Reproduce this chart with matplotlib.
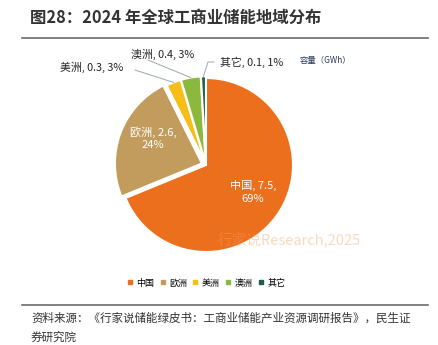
import matplotlib
matplotlib.use("Agg")
import matplotlib.pyplot as plt
import numpy as np

plt.rcParams['font.family'] = ['Noto Sans CJK SC', 'DejaVu Sans']

categories = ['中国', '欧洲', '美洲', '澳洲', '其它']
values = [7.5, 2.6, 0.3, 0.4, 0.1]
pct_labels = ['69%', '24%', '3%', '3%', '1%']
colors = ['#EC6F1E', '#C19C5C', '#F6BE17', '#8DB83E', '#1C5B4F']

W, H = 438, 345
fig = plt.figure(figsize=(W / 100, H / 100), dpi=100)

def fx(px):
    return px / W

def fy(py):
    return 1 - py / H

# Pie axes
cx, cy, r = 206, 165, 87
ax = fig.add_axes([fx(cx - r), fy(cy + r), 2 * r / W, 2 * r / H])
explode = [0.0, 0.05, 0.02, 0.02, 0.02]
wedges, _ = ax.pie(values, colors=colors, startangle=90, counterclock=False,
                   explode=explode,
                   wedgeprops=dict(edgecolor='white', linewidth=1.5))
ax.set_xlim(-1.0, 1.0)
ax.set_ylim(-1.0, 1.0)
ax.set_aspect('equal')
ax.axis('off')

# inside labels
fig.text(fx(253), fy(192), f'{categories[0]}, {values[0]},\n{pct_labels[0]}',
         ha='center', va='center', color='white', fontsize=8, linespacing=1.3)
fig.text(fx(153), fy(138), f'{categories[1]}, {values[1]},\n{pct_labels[1]}',
         ha='center', va='center', color='white', fontsize=8, linespacing=1.3)

# outside labels with leader lines
outside = {2: (92, 67, 135, 70), 3: (163, 54, 148, 60), 4: (252, 62, 214, 62)}
for i, (tx, ty, lx, ly) in outside.items():
    w = wedges[i]
    ang = np.deg2rad((w.theta1 + w.theta2) / 2)
    ex, ey = w.center[0] + w.r * np.cos(ang), w.center[1] + w.r * np.sin(ang)
    fig.text(fx(tx), fy(ty), f'{categories[i]}, {values[i]}, {pct_labels[i]}',
             ha='center', va='center', color='#222222', fontsize=7.8)
    disp_edge = ax.transData.transform((ex, ey))
    fig_edge = fig.transFigure.inverted().transform(disp_edge)
    if i == 4:
        xs = [fx(lx), fx(lx - 6), fig_edge[0]]
        ys = [fy(ly), fy(ly), fig_edge[1]]
    else:
        xs = [fx(lx), fig_edge[0]]
        ys = [fy(ly), fig_edge[1]]
    fig.add_artist(plt.Line2D(xs, ys, color='#9aa7b4', lw=0.7,
                              transform=fig.transFigure))

# unit
fig.text(fx(300), fy(61), '容量（GWh）', fontsize=6, color='#2b3a5a', va='center')

# watermark
fig.text(fx(218), fy(240), '行家说Research,2025', fontsize=10.5,
         color='#F0A060', alpha=0.4, va='center')

# legend
handles = [plt.Line2D([0], [0], marker='s', linestyle='', markersize=3.5,
                      markerfacecolor=c, markeredgecolor=c) for c in colors]
fig.legend(handles, categories, loc='center', bbox_to_anchor=(fx(206), fy(283)),
           ncol=5, frameon=False, fontsize=6.5, handlelength=0.7,
           handletextpad=0.35, columnspacing=0.6)

# title
fig.text(fx(30), fy(18), '图28：2024 年全球工商业储能地域分布', fontsize=11.8,
         fontweight='bold', color='#333333', va='center', ha='left')
fig.add_artist(plt.Line2D([fx(22), fx(428)], [fy(38), fy(38)], color='#6b6b6b',
                          lw=1.2, transform=fig.transFigure))
fig.add_artist(plt.Line2D([fx(22), fx(428)], [fy(305), fy(305)], color='#6b6b6b',
                          lw=1.2, transform=fig.transFigure))

# source
fig.text(fx(31), fy(318), '资料来源：《行家说储能绿皮书：工商业储能产业资源调研报告》，民生证',
         fontsize=8.3, color='#333333', va='center', ha='left')
fig.text(fx(31), fy(337), '券研究院', fontsize=8.3, color='#333333', va='center', ha='left')

fig.savefig('out.png', dpi=100)
